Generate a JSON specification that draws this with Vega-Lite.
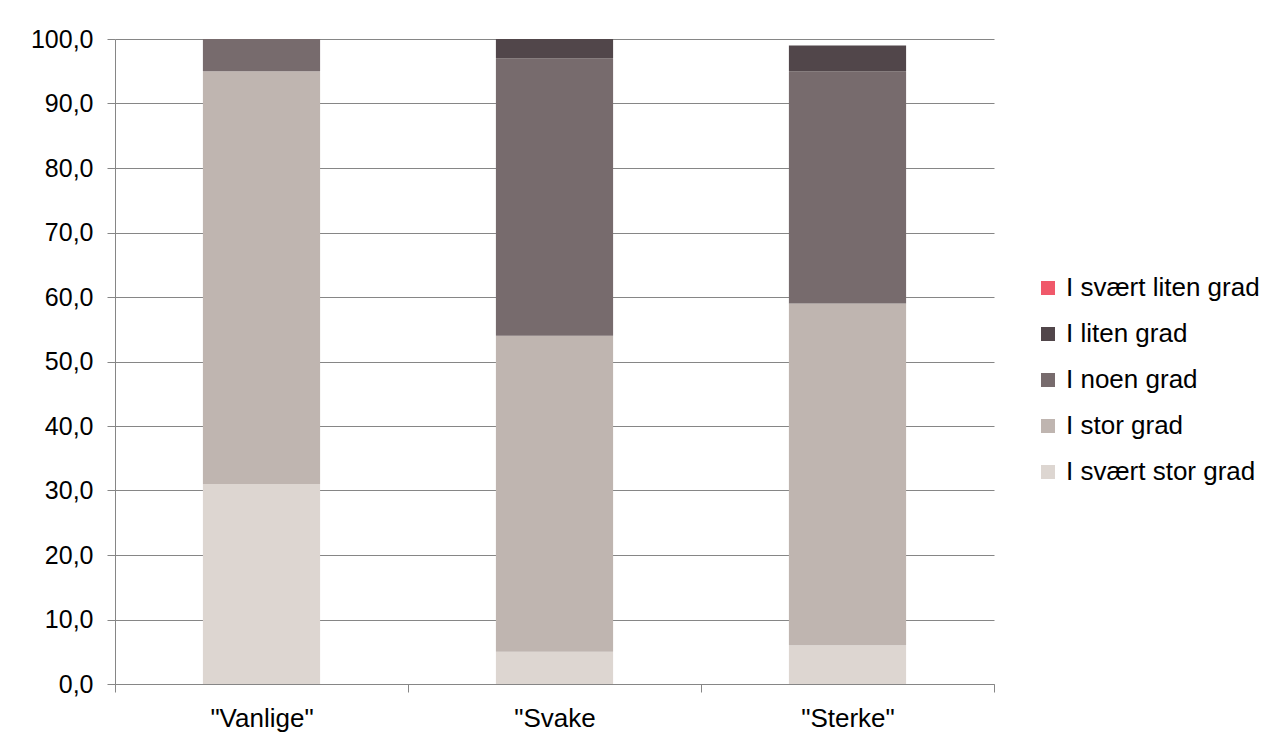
{
  "$schema": "https://vega.github.io/schema/vega-lite/v6.json",
  "width": 879,
  "height": 645,
  "autosize": {"type": "none"},
  "padding": {"left": 115, "top": 39, "right": 270, "bottom": 57},
  "background": "white",
  "data": {
    "values": [
      {"kategori": "\"Vanlige\"", "grad": "I svært stor grad", "rank": 1, "verdi": 31},
      {"kategori": "\"Vanlige\"", "grad": "I stor grad", "rank": 2, "verdi": 64},
      {"kategori": "\"Vanlige\"", "grad": "I noen grad", "rank": 3, "verdi": 5},
      {"kategori": "\"Vanlige\"", "grad": "I liten grad", "rank": 4, "verdi": 0},
      {"kategori": "\"Vanlige\"", "grad": "I svært liten grad", "rank": 5, "verdi": 0},
      {"kategori": "\"Svake", "grad": "I svært stor grad", "rank": 1, "verdi": 5},
      {"kategori": "\"Svake", "grad": "I stor grad", "rank": 2, "verdi": 49},
      {"kategori": "\"Svake", "grad": "I noen grad", "rank": 3, "verdi": 43},
      {"kategori": "\"Svake", "grad": "I liten grad", "rank": 4, "verdi": 3},
      {"kategori": "\"Svake", "grad": "I svært liten grad", "rank": 5, "verdi": 0},
      {"kategori": "\"Sterke\"", "grad": "I svært stor grad", "rank": 1, "verdi": 6},
      {"kategori": "\"Sterke\"", "grad": "I stor grad", "rank": 2, "verdi": 53},
      {"kategori": "\"Sterke\"", "grad": "I noen grad", "rank": 3, "verdi": 36},
      {"kategori": "\"Sterke\"", "grad": "I liten grad", "rank": 4, "verdi": 4},
      {"kategori": "\"Sterke\"", "grad": "I svært liten grad", "rank": 5, "verdi": 0}
    ]
  },
  "mark": {"type": "bar", "width": {"band": 0.4}},
  "encoding": {
    "x": {
      "field": "kategori",
      "type": "nominal",
      "sort": null,
      "scale": {"paddingInner": 0, "paddingOuter": 0},
      "axis": {
        "title": null,
        "labelAngle": 0,
        "tickBand": "extent",
        "grid": false,
        "tickSize": 8,
        "tickColor": "#868686",
        "domainColor": "#868686",
        "labelPadding": 13,
        "labelFont": "Liberation Sans",
        "labelFontSize": 26,
        "labelColor": "#000000"
      }
    },
    "y": {
      "field": "verdi",
      "type": "quantitative",
      "stack": "zero",
      "scale": {"domain": [0, 100], "nice": false},
      "axis": {
        "title": null,
        "values": [0, 10, 20, 30, 40, 50, 60, 70, 80, 90, 100],
        "labelExpr": "replace(format(datum.value, '.1f'), '.', ',')",
        "grid": true,
        "gridColor": "#868686",
        "gridOpacity": 1,
        "tickSize": 8,
        "tickColor": "#868686",
        "domainColor": "#868686",
        "labelPadding": 14,
        "labelFont": "Liberation Sans",
        "labelFontSize": 25,
        "labelColor": "#000000"
      }
    },
    "color": {
      "field": "grad",
      "type": "nominal",
      "scale": {
        "domain": ["I svært liten grad", "I liten grad", "I noen grad", "I stor grad", "I svært stor grad"],
        "range": ["#F0596A", "#51464A", "#776B6D", "#BFB5B0", "#DDD6D1"]
      },
      "legend": {
        "title": null,
        "orient": "none",
        "legendX": 920,
        "legendY": 236,
        "padding": 0,
        "symbolType": "square",
        "symbolSize": 196,
        "symbolStrokeWidth": 0,
        "symbolOpacity": 1,
        "labelFont": "Liberation Sans",
        "labelFontSize": 26,
        "labelColor": "#000000",
        "labelOffset": 5,
        "rowPadding": 20,
        "labelLimit": 300
      }
    },
    "order": {"field": "rank", "type": "quantitative"}
  },
  "config": {
    "view": {"stroke": null}
  }
}
